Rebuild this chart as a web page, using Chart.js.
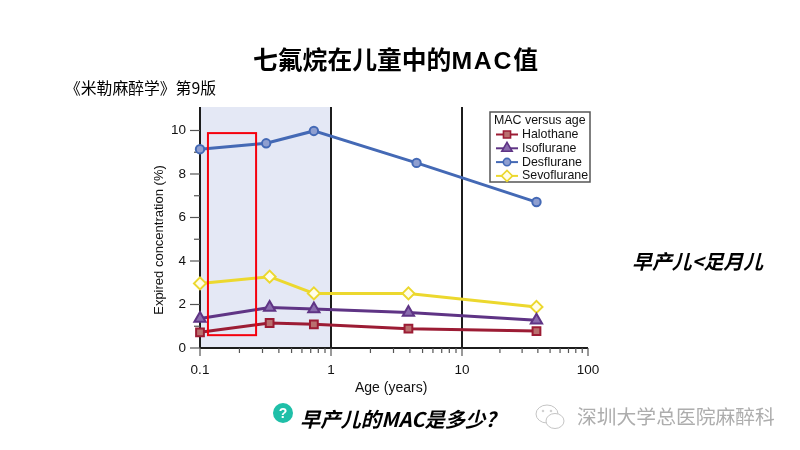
<!DOCTYPE html>
<html><head><meta charset="utf-8">
<style>
html,body{margin:0;padding:0;background:#fff;width:800px;height:450px;overflow:hidden}
#c{position:absolute;left:0;top:0}
.t{position:absolute;white-space:nowrap;font-family:"Noto Sans CJK SC";color:#000;line-height:1}
</style></head><body>
<canvas id="c" width="800" height="450"></canvas>
<div class="t" style="left:253px;top:46px;font-size:24.8px;font-weight:700">七氟烷在儿童中的<span style="font-family:'Liberation Sans';letter-spacing:1.8px">MAC</span>值</div>
<div class="t" style="left:65px;top:80px;font-size:15.8px">《米勒麻醉学》第9版</div>
<div class="t" style="left:632px;top:251px;font-size:19.9px;font-weight:700;font-style:italic">早产儿&lt;足月儿</div>
<svg style="position:absolute;left:273px;top:403px" width="20" height="20"><circle cx="10" cy="10" r="10" fill="#1fbfa8"/><text x="10" y="15" text-anchor="middle" font-family="Liberation Sans" font-weight="700" font-size="14" fill="#fff">?</text></svg>
<div class="t" style="left:300px;top:408px;font-size:20.3px;font-weight:700;font-style:italic">早产儿的MAC是多少?</div>
<svg style="position:absolute;left:534px;top:402px" width="34" height="30" fill="#fff" stroke="#c4c4c4" stroke-width="1"><ellipse cx="13" cy="12" rx="11" ry="9"/><ellipse cx="21" cy="19" rx="9" ry="7.5"/><circle cx="9" cy="9" r="0.8"/><circle cx="17" cy="9" r="0.8"/></svg>
<div class="t" style="left:577px;top:406px;font-size:19.8px;color:#adadad">深圳大学总医院麻醉科</div>
<script src="https://cdn.jsdelivr.net/npm/chart.js@4/dist/chart.umd.js"></script>
<script>
const seriesNames = ["Halothane","Isoflurane","Desflurane","Sevoflurane"];
const ageMost = [0.1,0.34,0.74,3.9,39];
const ageDes = [0.1,0.32,0.74,4.5,39];
const halothane = [0.72,1.15,1.09,0.89,0.78];
const isoflurane = [1.36,1.86,1.79,1.63,1.28];
const desflurane = [9.14,9.41,9.98,8.51,6.71];
const sevoflurane = [2.97,3.28,2.51,2.51,1.89];
const yTicks = [0,1,2,3,4,5,6,7,8,9,10];
const xTicks = [0.1,0.2,0.3,0.4,0.5,0.6,0.7,0.8,0.9,1,2,3,4,5,6,7,8,9,10,20,30,40,50,60,70,80,90,100];
const xLabelled = [0.1,1,10,100];
const legendTitle = "MAC versus age";
const xTitle = "Age (years)";
const yTitle = "Expired concentration (%)";
const shadedAges = [0.1,1];
const darkAges = [0.1,1,10];
const highlightAges = [0.115,0.268];
const highlightConc = [0.59,9.88];

// The printed axis gives its last decade slightly less room than the first two.
const decadeShare = [131/388,131/388,126/388];
class PrintedLogScale extends Chart.LogarithmicScale {
  getPixelForValue(v){
    let t = Math.log10(v)+1, f = 0;
    for (let i=0;i<3;i++){ const p=Math.min(Math.max(t-i,0),1); f+=p*decadeShare[i]; }
    return this.left + f*this.width;
  }
}
PrintedLogScale.id = 'printedLog';
PrintedLogScale.defaults = Chart.LogarithmicScale.defaults;
Chart.register(PrintedLogScale);

const pts = (xs,ys)=>ys.map((y,i)=>({x:xs[i],y}));
const styles = [
 {c:'#9c1c34',f:'#b9706f',s:'rect',r:5.5,w:3},
 {c:'#5f3485',f:'#8a6cae',s:'triangle',r:6.5,w:3},
 {c:'#4469b5',f:'#8f9fd0',s:'circle',r:4.2,w:3},
 {c:'#ecd82e',f:'#fffde8',s:'rectRot',r:6,w:3}
];
const values=[halothane,isoflurane,desflurane,sevoflurane];
const datasets=seriesNames.map((n,i)=>({label:n,data:pts(i==2?ageDes:ageMost,values[i]),
  borderColor:styles[i].c,backgroundColor:styles[i].f,borderWidth:styles[i].w,
  pointStyle:styles[i].s,pointRadius:styles[i].r,pointBorderWidth:2,pointBorderColor:styles[i].c,pointBackgroundColor:styles[i].f,
  tension:0,clip:false}));

const behind={id:'behind',beforeDatasetsDraw(ch){
  const {ctx,scales:{x,y}}=ch, a=ch.chartArea; ctx.save();
  ctx.fillStyle='#e4e8f5';
  const l=x.getPixelForValue(shadedAges[0]), r=x.getPixelForValue(shadedAges[1]);
  ctx.fillRect(l,a.top,r-l,a.bottom-a.top);
  ctx.lineWidth=2;
  ctx.strokeStyle='#1c1c1c';
  darkAges.forEach(v=>{const p=x.getPixelForValue(v);ctx.beginPath();ctx.moveTo(p,a.top);ctx.lineTo(p,a.bottom);ctx.stroke();});
  ctx.beginPath();ctx.moveTo(a.left,a.bottom);ctx.lineTo(a.right,a.bottom);ctx.stroke();
  ctx.strokeStyle='#555';ctx.lineWidth=1.2;
  x.ticks.forEach(t=>{const p=x.getPixelForValue(t.value);const maj=xLabelled.includes(t.value);ctx.beginPath();ctx.moveTo(p,a.bottom);ctx.lineTo(p,a.bottom+(maj?8:5));ctx.stroke();});
  y.ticks.forEach(t=>{const p=y.getPixelForValue(t.value);ctx.beginPath();ctx.moveTo(a.left,p);ctx.lineTo(a.left-(t.value%2==0?10:6),p);ctx.stroke();});
  ctx.fillStyle='#111';ctx.textAlign='left';ctx.textBaseline='middle';
  ctx.font='14px "Liberation Sans"';
  ctx.fillText(xTitle,355,388);
  ctx.translate(159,240);ctx.rotate(-Math.PI/2);ctx.textAlign='center';
  ctx.font='13px "Liberation Sans"';
  ctx.fillText(yTitle,0,0);
  ctx.restore();
}};
const front={id:'front',afterDatasetsDraw(ch){
  const {ctx,scales:{x,y}}=ch; ctx.save();
  ctx.strokeStyle='#f5000d';ctx.lineWidth=2;
  const l=x.getPixelForValue(highlightAges[0]),r=x.getPixelForValue(highlightAges[1]);
  const b=y.getPixelForValue(highlightConc[0]),t=y.getPixelForValue(highlightConc[1]);
  ctx.strokeRect(l,t,r-l,b-t);
  // legend box
  const lx=490,ly=112,lw=100,lh=70;
  ctx.fillStyle='#fff';ctx.fillRect(lx,ly,lw,lh);
  ctx.strokeStyle='#555';ctx.lineWidth=1.5;ctx.strokeRect(lx,ly,lw,lh);
  ctx.fillStyle='#111';ctx.textBaseline='middle';ctx.textAlign='left';
  ctx.font='12.4px "Liberation Sans"';
  ctx.fillText(legendTitle,lx+4,ly+8.5);
  seriesNames.forEach((n,i)=>{
    const yy=ly+22.5+i*13.8,s=styles[i];
    ctx.strokeStyle=s.c;ctx.lineWidth=2;ctx.beginPath();ctx.moveTo(lx+6,yy);ctx.lineTo(lx+28,yy);ctx.stroke();
    ctx.fillStyle=s.f;ctx.strokeStyle=s.c;ctx.lineWidth=1.6;
    Chart.helpers.drawPoint(ctx,{pointStyle:s.s,radius:s.r-0.5,borderWidth:1.6},lx+17,yy);
    ctx.fillStyle='#111';ctx.fillText(n,lx+32,yy);
  });
  ctx.restore();
}};

new Chart(document.getElementById('c'),{
 type:'line',
 data:{datasets},
 plugins:[behind,front],
 options:{
  responsive:false,animation:false,
  layout:{padding:{left:150,top:107,right:212,bottom:0}},
  plugins:{legend:{display:false},title:{display:false},tooltip:{enabled:false}},
  scales:{
   x:{type:'printedLog',min:0.1,max:100,
     afterBuildTicks(s){s.ticks=xTicks.map(value=>({value}));},
     afterFit(s){s.height=102;},
     grid:{display:false,drawTicks:false},border:{display:false},
     ticks:{autoSkip:false,maxRotation:0,minRotation:0,padding:14,color:'#111',font:{family:'Liberation Sans',size:13.5},
       callback(v){return xLabelled.includes(v)?String(v):'';}}},
   y:{type:'linear',min:0,max:11.08,
     afterBuildTicks(s){s.ticks=yTicks.map(value=>({value}));},
     afterFit(s){s.width=50;},
     grid:{display:false,drawTicks:false},border:{display:false},
     ticks:{autoSkip:false,padding:14,color:'#111',font:{family:'Liberation Sans',size:13.5},
       callback(v){return v%2==0?String(v):'';}}}
  }
 }
});
</script>
</body></html>
